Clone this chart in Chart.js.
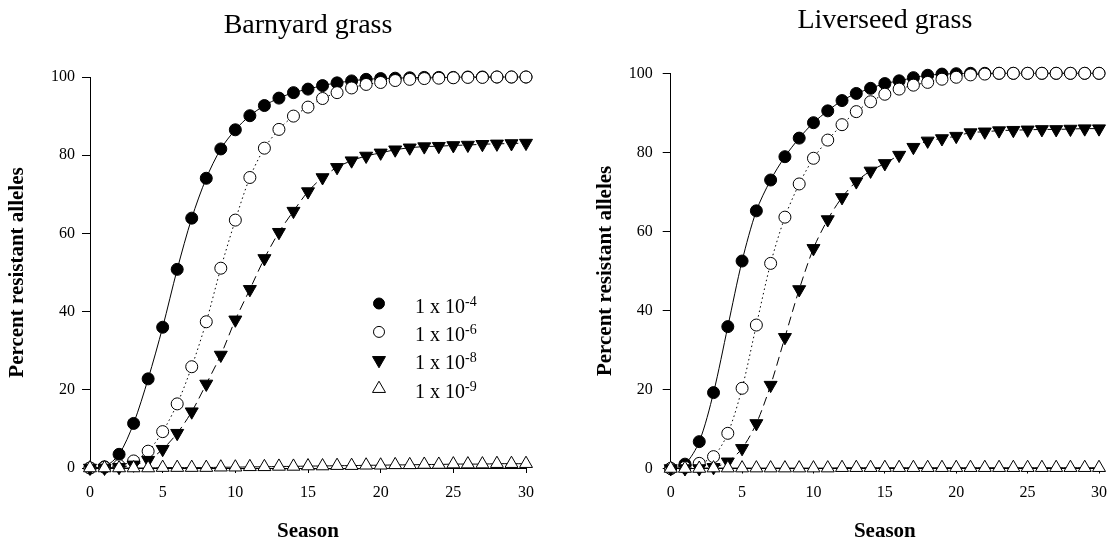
<!DOCTYPE html>
<html>
<head>
<meta charset="utf-8">
<script src="https://cdn.jsdelivr.net/npm/chart.js@4.4.1/dist/chart.umd.min.js"></script>
<style>
  html, body { margin: 0; padding: 0; background: #fff; }
  #wrap { position: relative; width: 1117px; height: 542px; }
  canvas { position: absolute; top: 0; }
</style>
</head>
<body>
<div id="wrap">
  <canvas id="barnyard" width="558" height="542" style="left:0"></canvas>
  <canvas id="liverseed" width="559" height="542" style="left:558px"></canvas>
</div>
<script>
// data
const seasons = [0, 1, 2, 3, 4, 5, 6, 7, 8, 9, 10, 11, 12, 13, 14, 15, 16, 17, 18, 19, 20, 21, 22, 23, 24, 25, 26, 27, 28, 29, 30];

const barnyard4 = [0, 0.3, 3.5, 11.4, 22.8, 36.0, 50.8, 63.9, 74.1, 81.6, 86.5, 90.1, 92.7, 94.6, 96.0, 96.9, 97.8, 98.5, 99.0, 99.4, 99.6, 99.7, 99.8, 99.9, 99.9, 99.9, 100, 100, 100, 100, 100];
const barnyard6 = [0, 0.2, 0.6, 1.8, 4.3, 9.3, 16.4, 25.9, 37.4, 51.1, 63.4, 74.3, 81.8, 86.6, 90.0, 92.3, 94.5, 96.0, 97.2, 98.1, 98.6, 99.1, 99.4, 99.6, 99.7, 99.8, 99.9, 99.9, 100, 100, 100];
const barnyard8 = [0, 0, 0.2, 0.8, 2.0, 4.8, 8.9, 14.4, 21.5, 28.9, 37.9, 45.7, 53.6, 60.3, 65.7, 70.7, 74.3, 76.9, 78.6, 79.8, 80.6, 81.4, 81.9, 82.2, 82.3, 82.5, 82.6, 82.8, 82.9, 83.0, 83.1];
const barnyard9 = [0, 0, 0, 0, 0, 0.1, 0.1, 0.1, 0.1, 0.2, 0.2, 0.3, 0.3, 0.4, 0.4, 0.5, 0.5, 0.6, 0.6, 0.7, 0.7, 0.8, 0.8, 0.9, 0.9, 1.0, 1.0, 1.0, 1.1, 1.1, 1.1];

const liverseed4 = [0, 1.1, 6.8, 19.2, 35.9, 52.5, 65.2, 73.0, 78.9, 83.6, 87.5, 90.5, 93.1, 94.9, 96.2, 97.4, 98.1, 98.9, 99.5, 99.8, 99.9, 100, 100, 100, 100, 100, 100, 100, 100, 100, 100];
const liverseed6 = [0, 0.3, 1.3, 3.0, 8.9, 20.3, 36.3, 51.9, 63.6, 72.0, 78.5, 83.1, 87.0, 90.3, 92.8, 94.7, 96.0, 97.0, 97.7, 98.5, 99.0, 99.6, 99.8, 100, 100, 100, 100, 100, 100, 100, 100];
const liverseed8 = [0, 0, 0, 0.3, 1.7, 5.1, 11.4, 21.1, 33.2, 45.3, 55.7, 63.0, 68.6, 72.6, 75.3, 77.2, 79.3, 81.3, 82.9, 83.5, 84.1, 85.0, 85.2, 85.5, 85.6, 85.7, 85.8, 85.8, 85.9, 86.0, 86.0];
const liverseed9 = [0, 0, 0, 0.1, 0.1, 0.1, 0.1, 0.1, 0.1, 0.1, 0.1, 0.1, 0.2, 0.2, 0.2, 0.2, 0.2, 0.2, 0.2, 0.2, 0.2, 0.2, 0.2, 0.2, 0.2, 0.2, 0.2, 0.2, 0.2, 0.2, 0.2];

const legendBase = ['1 x 10', '1 x 10', '1 x 10', '1 x 10'];
const legendExp = ['-4', '-6', '-8', '-9'];

const yTicks = [0, 20, 40, 60, 80, 100];
const xTicks = [0, 5, 10, 15, 20, 25, 30];

const SERIF = '"Liberation Serif", "Times New Roman", serif';
Chart.defaults.font.family = SERIF;
Chart.defaults.color = '#000';

// marker / line look for each series
const looks = [
  { style: 'circle', rot: 0, r: 6, fill: '#000', dash: [], order: 4 },
  { style: 'circle', rot: 0, r: 6, fill: '#fff', dash: [1.5, 3], order: 3 },
  { style: 'triangle', rot: 180, r: 7.5, fill: '#000', dash: [9, 5], order: 2 },
  { style: 'triangle', rot: 0, r: 7.5, fill: '#fff', dash: [], order: 1 }
];

function buildDatasets(lists) {
  return lists.map((vals, i) => ({
    label: legendBase[i] + legendExp[i],
    data: seasons.map((s, k) => ({ x: s, y: vals[k] })),
    borderColor: '#000',
    borderWidth: 1,
    borderDash: looks[i].dash,
    pointStyle: looks[i].style,
    pointRotation: looks[i].rot,
    pointRadius: looks[i].r,
    pointBackgroundColor: looks[i].fill,
    pointBorderColor: '#000',
    pointBorderWidth: 1,
    tension: 0.3,
    clip: false,
    order: looks[i].order
  }));
}

// title over the plot area
const panelTitle = {
  id: 'panelTitle',
  afterDraw(chart, args, opts) {
    const { ctx, chartArea } = chart;
    ctx.save();
    ctx.font = '28px ' + SERIF;
    ctx.fillStyle = '#000';
    ctx.textAlign = 'center';
    ctx.textBaseline = 'alphabetic';
    ctx.fillText(opts.text, (chartArea.left + chartArea.right) / 2, chartArea.top - opts.gap);
    ctx.restore();
  }
};

function marker(ctx, look, x, y, r) {
  ctx.beginPath();
  if (look.style === 'circle') {
    ctx.arc(x, y, r, 0, Math.PI * 2);
  } else {
    const dir = look.rot === 180 ? 1 : -1;
    ctx.moveTo(x, y + dir * r);
    ctx.lineTo(x + r * Math.cos(Math.PI / 6), y - dir * r / 2);
    ctx.lineTo(x - r * Math.cos(Math.PI / 6), y - dir * r / 2);
    ctx.closePath();
  }
  ctx.fillStyle = look.fill;
  ctx.fill();
  ctx.lineWidth = 1;
  ctx.strokeStyle = '#000';
  ctx.stroke();
}

// legend with superscript exponents
const expLegend = {
  id: 'expLegend',
  afterDraw(chart, args, opts) {
    if (!opts.show) return;
    const { ctx } = chart;
    ctx.save();
    legendBase.forEach((txt, i) => {
      const y = opts.y + i * opts.step;
      const look = looks[i];
      marker(ctx, look, opts.x, y, look.style === 'circle' ? 5.5 : 7.5);
      ctx.fillStyle = '#000';
      ctx.textAlign = 'left';
      ctx.textBaseline = 'alphabetic';
      ctx.font = '20px ' + SERIF;
      const base = y + 9;
      ctx.fillText(txt, opts.textX, base);
      const w = ctx.measureText(txt).width;
      ctx.font = '14px ' + SERIF;
      ctx.fillText(legendExp[i], opts.textX + w, base - 7);
    });
    ctx.restore();
  }
};

function buildOptions(g) {
  return {
    responsive: false,
    animation: false,
    devicePixelRatio: 1,
    layout: { padding: g.padding },
    plugins: {
      legend: { display: false },
      tooltip: { enabled: false },
      panelTitle: { text: g.title, gap: g.titleGap },
      expLegend: g.legend
    },
    scales: {
      x: {
        type: 'linear',
        min: 0, max: 30,
        afterFit: s => { s.height = g.xHeight; },
        afterBuildTicks: s => { s.ticks = xTicks.map(v => ({ value: v })); },
        grid: { drawOnChartArea: false, drawTicks: true, tickLength: 5, color: '#000', lineWidth: 1 },
        border: { display: true, color: '#000', width: 1 },
        ticks: { font: { size: 16 }, padding: 10, color: '#000', maxRotation: 0 },
        title: { display: true, text: 'Season', font: { size: 21, weight: 'bold', lineHeight: 1 }, padding: { top: 0, bottom: 0 }, color: '#000' }
      },
      y: {
        type: 'linear',
        min: 0, max: 100,
        afterFit: s => { s.width = g.yWidth; },
        afterBuildTicks: s => { s.ticks = yTicks.map(v => ({ value: v })); },
        grid: { drawOnChartArea: false, drawTicks: true, tickLength: 8, color: '#000', lineWidth: 1 },
        border: { display: true, color: '#000', width: 1 },
        ticks: { font: { size: 16 }, padding: g.yTickPad, color: '#000' },
        title: { display: true, text: 'Percent resistant alleles', font: { size: 21, weight: 'bold', lineHeight: 1 }, padding: { top: g.yTitlePad, bottom: 0 }, color: '#000' }
      }
    }
  };
}

new Chart(document.getElementById('barnyard'), {
  type: 'line',
  data: { datasets: buildDatasets([barnyard4, barnyard6, barnyard8, barnyard9]) },
  options: buildOptions({
    title: 'Barnyard grass', titleGap: 43.7,
    padding: { left: 0, right: 32, top: 77, bottom: 0 },
    yWidth: 90, xHeight: 74, yTickPad: 7, yTitlePad: 7.5,
    legend: { show: true, x: 379, y: 303.5, step: 28.4, textX: 415 }
  }),
  plugins: [panelTitle, expLegend]
});

new Chart(document.getElementById('liverseed'), {
  type: 'line',
  data: { datasets: buildDatasets([liverseed4, liverseed6, liverseed8, liverseed9]) },
  options: buildOptions({
    title: 'Liverseed grass', titleGap: 45,
    padding: { left: 0, right: 10.4, top: 73.3, bottom: 0 },
    yWidth: 112.7, xHeight: 73.5, yTickPad: 10, yTitlePad: 37.5,
    legend: { show: false }
  }),
  plugins: [panelTitle, expLegend]
});
</script>
</body>
</html>
